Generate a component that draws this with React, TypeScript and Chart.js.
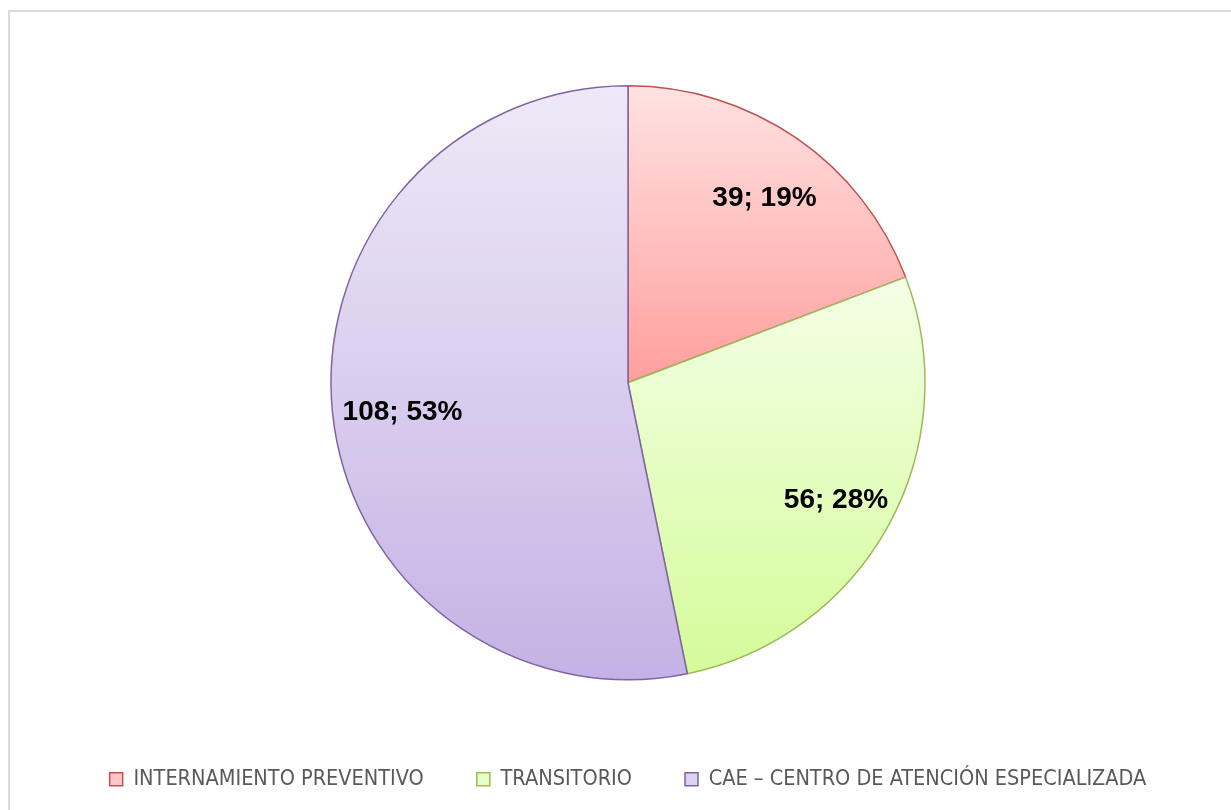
import React, { useEffect, useRef } from 'react';
import { Chart, registerables } from 'chart.js';

Chart.register(...registerables);

const categories = [
  'INTERNAMIENTO PREVENTIVO',
  'TRANSITORIO',
  'CAE – CENTRO DE ATENCIÓN ESPECIALIZADA',
];
const values = [39, 56, 108];
const topColors = ['#FFE2E2', '#F3FFE6', '#EEE9F7'];
const bottomColors = ['#FF9F9D', '#D5FB9A', '#C5B2E5'];
const borderColors = ['#C0504D', '#9BBB59', '#8064A2'];
const legendFill = ['#FFC8C8', '#E8FDC8', '#DDD3F0'];

const BORDER_W = 1.5;
const PIE_RADIUS = 297;
const LABEL_RADIUS = 0.78;
const LABEL_SHIFT_X = 5;
const LABEL_SHIFT_Y = 6;
const total = values.reduce((a, b) => a + b, 0);

function sliceGradient(context: any) {
  const i = context.dataIndex;
  const chart = context.chart;
  const area = chart.chartArea;
  if (i === undefined || !area) return bottomColors[0];
  const cy = (area.top + area.bottom) / 2;
  const r = PIE_RADIUS;
  let before = 0;
  for (let k = 0; k < i; k++) before += values[k];
  const a0 = -Math.PI / 2 + (before / total) * Math.PI * 2;
  const a1 = a0 + (values[i] / total) * Math.PI * 2;
  let minY = cy;
  let maxY = cy;
  for (let s = 0; s <= 200; s++) {
    const a = a0 + ((a1 - a0) * s) / 200;
    const y = cy + r * Math.sin(a);
    if (y < minY) minY = y;
    if (y > maxY) maxY = y;
  }
  const g = chart.ctx.createLinearGradient(0, minY, 0, maxY);
  g.addColorStop(0, topColors[i]);
  g.addColorStop(1, bottomColors[i]);
  return g;
}

const labelPlugin = {
  id: 'sliceLabels',
  afterDatasetsDraw(chart: any) {
    const meta = chart.getDatasetMeta(0);
    const ctx = chart.ctx;
    ctx.save();
    ctx.font = 'bold 28px "Liberation Sans", Arial, sans-serif';
    ctx.fillStyle = '#000000';
    ctx.textAlign = 'center';
    ctx.textBaseline = 'middle';
    meta.data.forEach((arc: any, i: number) => {
      const p = arc.getProps(['x', 'y', 'startAngle', 'endAngle', 'outerRadius'], true);
      const mid = (p.startAngle + p.endAngle) / 2;
      const d = p.outerRadius * LABEL_RADIUS;
      const pct = Math.round((values[i] / total) * 100);
      ctx.fillText(
        `${values[i]}; ${pct}%`,
        p.x + Math.cos(mid) * d + LABEL_SHIFT_X,
        p.y + Math.sin(mid) * d + LABEL_SHIFT_Y
      );
    });
    ctx.restore();
  },
};

export default function App() {
  const ref = useRef<HTMLCanvasElement | null>(null);

  useEffect(() => {
    if (!ref.current) return;
    const chart = new Chart(ref.current, {
      type: 'pie',
      data: {
        labels: categories,
        datasets: [
          {
            data: values,
            backgroundColor: sliceGradient as any,
            borderColor: borderColors,
            borderWidth: BORDER_W,
            radius: PIE_RADIUS,
          },
        ],
      },
      options: {
        animation: false,
        responsive: false,
        layout: { padding: { left: 15, right: 0, top: 38, bottom: 10 } },
        plugins: {
          tooltip: { enabled: false },
          legend: {
            position: 'bottom',
            labels: {
              boxWidth: 13,
              boxHeight: 13,
              padding: 53,
              color: '#595959',
              font: { size: 21.5, family: '"Liberation Sans Narrow", "DejaVu Sans Condensed", sans-serif' },
              generateLabels: () =>
                categories.map((c, i) => ({
                  text: c,
                  fillStyle: legendFill[i],
                  strokeStyle: borderColors[i],
                  lineWidth: 1.5,
                  hidden: false,
                  index: i,
                  fontColor: '#595959',
                })),
            },
          },
        },
      },
      plugins: [labelPlugin],
    });
    return () => chart.destroy();
  }, []);

  return (
    <div
      style={{
        position: 'absolute',
        left: 8,
        top: 10,
        width: 1223,
        height: 800,
        boxSizing: 'border-box',
        borderLeft: '2px solid #dcdcdc',
        borderTop: '2px solid #dcdcdc',
        background: '#ffffff',
      }}
    >
      <canvas ref={ref} width={1221} height={798} style={{ display: 'block' }} />
    </div>
  );
}
